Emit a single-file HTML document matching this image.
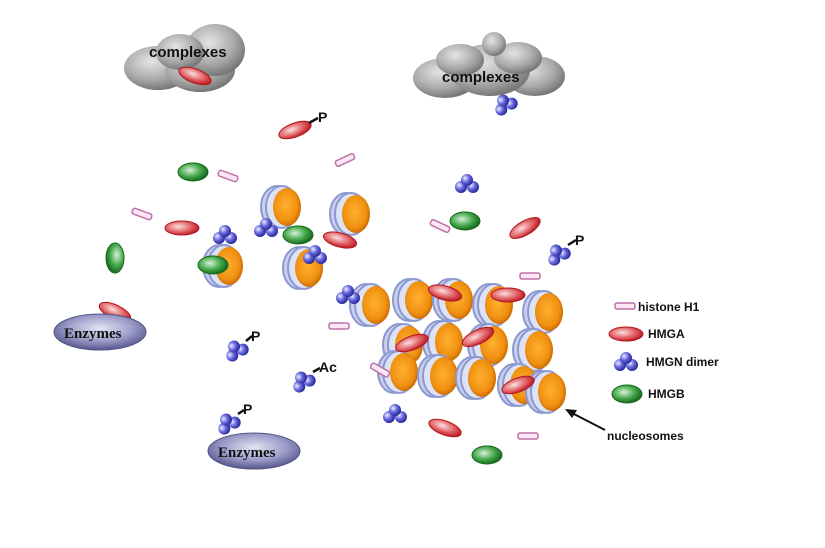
<!DOCTYPE html>
<html><head><meta charset="utf-8"><style>
html,body{margin:0;padding:0;background:#fff;}
svg{display:block;}
text{font-family:"Liberation Sans",Arial,sans-serif;font-weight:bold;fill:#111;}
</style></head><body>
<svg width="825" height="548" viewBox="0 0 825 548" xmlns="http://www.w3.org/2000/svg">
<defs>
<radialGradient id="gray" cx="40%" cy="35%" r="70%"><stop offset="0" stop-color="#e4e4e4"/><stop offset="0.6" stop-color="#a8a8a8"/><stop offset="1" stop-color="#6e6e6e"/></radialGradient>
<radialGradient id="red" cx="40%" cy="40%" r="60%"><stop offset="0" stop-color="#fbe0e0"/><stop offset="0.6" stop-color="#e2666a"/><stop offset="1" stop-color="#c0202a"/></radialGradient>
<radialGradient id="grn" cx="40%" cy="40%" r="60%"><stop offset="0" stop-color="#d8f0d8"/><stop offset="0.6" stop-color="#44a84a"/><stop offset="1" stop-color="#1a6a20"/></radialGradient>
<radialGradient id="blu" cx="35%" cy="35%" r="65%"><stop offset="0" stop-color="#eef0ff"/><stop offset="0.5" stop-color="#6a6ae0"/><stop offset="1" stop-color="#2a2a9a"/></radialGradient>
<radialGradient id="enz" cx="50%" cy="40%" r="60%"><stop offset="0" stop-color="#e4e4f4"/><stop offset="0.6" stop-color="#9a9ac8"/><stop offset="1" stop-color="#55558a"/></radialGradient>
<radialGradient id="org" cx="45%" cy="45%" r="60%"><stop offset="0" stop-color="#ffb030"/><stop offset="0.7" stop-color="#f09010"/><stop offset="1" stop-color="#c06000"/></radialGradient>
<g id="nuc">
<ellipse cx="-6" cy="0" rx="16" ry="21" fill="#c8d0ee" stroke="#8c98d0" stroke-width="2"/>
<ellipse cx="-1" cy="0" rx="16" ry="21" fill="#dde2f6" stroke="#8c98d0" stroke-width="2"/>
<ellipse cx="4" cy="0" rx="14" ry="19" fill="url(#org)"/>
</g>
<g id="h1"><rect x="-10" y="-3" width="20" height="6" rx="2" fill="#fbe8f4" stroke="#c070a8" stroke-width="1.5"/></g>
<g id="hmga"><ellipse rx="17" ry="7" fill="url(#red)" stroke="#b01820" stroke-width="1"/></g>
<g id="hmgb"><ellipse rx="15" ry="9" fill="url(#grn)" stroke="#1a6a20" stroke-width="1"/></g>
<g id="hmgn"><circle cx="-6" cy="3" r="6" fill="url(#blu)"/><circle cx="6" cy="3" r="6" fill="url(#blu)"/><circle cx="0" cy="-4" r="6" fill="url(#blu)"/></g>
</defs>

<g fill="url(#gray)">
<ellipse cx="158" cy="68" rx="34" ry="22"/><ellipse cx="200" cy="70" rx="35" ry="22"/><ellipse cx="215" cy="50" rx="30" ry="26"/><ellipse cx="180" cy="52" rx="24" ry="18"/>
</g>
<text x="149" y="57" font-size="15">complexes</text>
<use href="#hmga" transform="translate(195,76) rotate(20)"/>
<g fill="url(#gray)">
<ellipse cx="445" cy="78" rx="32" ry="20"/><ellipse cx="535" cy="76" rx="30" ry="20"/><ellipse cx="490" cy="70" rx="40" ry="26"/><ellipse cx="460" cy="60" rx="24" ry="16"/><ellipse cx="518" cy="58" rx="24" ry="16"/><circle cx="494" cy="44" r="12"/>
</g>
<text x="442" y="82" font-size="15">complexes</text>
<use href="#hmgn" transform="translate(505,104) rotate(-30)"/>

<use href="#nuc" transform="translate(283,207)"/>
<use href="#nuc" transform="translate(352,214)"/>
<use href="#nuc" transform="translate(225,266)"/>
<use href="#nuc" transform="translate(305,268)"/>
<use href="#nuc" transform="translate(372,305)"/>
<use href="#nuc" transform="translate(415,300)"/>
<use href="#nuc" transform="translate(455,300)"/>
<use href="#nuc" transform="translate(495,305)"/>
<use href="#nuc" transform="translate(545,312)"/>
<use href="#nuc" transform="translate(405,345)"/>
<use href="#nuc" transform="translate(445,342)"/>
<use href="#nuc" transform="translate(490,345)"/>
<use href="#nuc" transform="translate(535,350)"/>
<use href="#nuc" transform="translate(400,372)"/>
<use href="#nuc" transform="translate(440,376)"/>
<use href="#nuc" transform="translate(478,378)"/>
<use href="#nuc" transform="translate(520,385)"/>
<use href="#nuc" transform="translate(548,392)"/>

<use href="#h1" transform="translate(228,176) rotate(20)"/>
<use href="#h1" transform="translate(345,160) rotate(-25)"/>
<use href="#h1" transform="translate(142,214) rotate(20)"/>
<use href="#h1" transform="translate(440,226) rotate(25)"/>
<use href="#h1" transform="translate(530,276)"/>
<use href="#h1" transform="translate(339,326)"/>
<use href="#h1" transform="translate(380,370) rotate(30)"/>
<use href="#h1" transform="translate(528,436)"/>

<use href="#hmga" transform="translate(295,130) rotate(-20)"/>
<use href="#hmga" transform="translate(182,228)"/>
<use href="#hmga" transform="translate(525,228) rotate(-30)"/>
<use href="#hmga" transform="translate(340,240) rotate(15)"/>
<use href="#hmga" transform="translate(115,312) rotate(25)"/>
<use href="#hmga" transform="translate(445,428) rotate(20)"/>
<use href="#hmga" transform="translate(445,293) rotate(15)"/>
<use href="#hmga" transform="translate(508,295)"/>
<use href="#hmga" transform="translate(478,337) rotate(-25)"/>
<use href="#hmga" transform="translate(412,343) rotate(-20)"/>
<use href="#hmga" transform="translate(518,385) rotate(-20)"/>

<use href="#hmgb" transform="translate(193,172)"/>
<use href="#hmgb" transform="translate(465,221)"/>
<use href="#hmgb" transform="translate(298,235)"/>
<use href="#hmgb" transform="translate(213,265)"/>
<use href="#hmgb" transform="translate(115,258) rotate(90)"/>
<use href="#hmgb" transform="translate(487,455)"/>

<use href="#hmgn" transform="translate(225,235)"/>
<use href="#hmgn" transform="translate(266,228)"/>
<use href="#hmgn" transform="translate(315,255)"/>
<use href="#hmgn" transform="translate(467,184)"/>
<use href="#hmgn" transform="translate(558,254) rotate(-30)"/>
<use href="#hmgn" transform="translate(236,350) rotate(-30)"/>
<use href="#hmgn" transform="translate(303,381) rotate(-30)"/>
<use href="#hmgn" transform="translate(228,423) rotate(-30)"/>
<use href="#hmgn" transform="translate(395,414)"/>
<use href="#hmgn" transform="translate(348,295)"/>

<g stroke="#111" stroke-width="2.5">
<line x1="309" y1="123" x2="318" y2="118"/><line x1="568" y1="245" x2="576" y2="240"/>
<line x1="246" y1="341" x2="252" y2="336"/><line x1="313" y1="372" x2="320" y2="368"/>
<line x1="238" y1="414" x2="244" y2="410"/>
</g>
<text x="318" y="122" font-size="14">P</text>
<text x="575" y="245" font-size="14">P</text>
<text x="251" y="341" font-size="14">P</text>
<text x="319" y="372" font-size="14">Ac</text>
<text x="243" y="414" font-size="14">P</text>

<ellipse cx="100" cy="332" rx="46" ry="18" fill="url(#enz)" stroke="#55558a"/>
<text x="64" y="338" font-size="15" style="font-family:'Liberation Serif',serif">Enzymes</text>
<ellipse cx="254" cy="451" rx="46" ry="18" fill="url(#enz)" stroke="#55558a"/>
<text x="218" y="457" font-size="15" style="font-family:'Liberation Serif',serif">Enzymes</text>

<use href="#h1" transform="translate(625,306)"/>
<text x="638" y="311" font-size="12">histone H1</text>
<use href="#hmga" transform="translate(626,334)"/>
<text x="648" y="338" font-size="12">HMGA</text>
<use href="#hmgn" transform="translate(626,362)"/>
<text x="646" y="366" font-size="12">HMGN dimer</text>
<use href="#hmgb" transform="translate(627,394)"/>
<text x="648" y="398" font-size="12">HMGB</text>
<line x1="605" y1="430" x2="572" y2="413" stroke="#111" stroke-width="2"/>
<polygon points="565,409 577,410 572,418" fill="#111"/>
<text x="607" y="440" font-size="12">nucleosomes</text>
</svg>
</body></html>
